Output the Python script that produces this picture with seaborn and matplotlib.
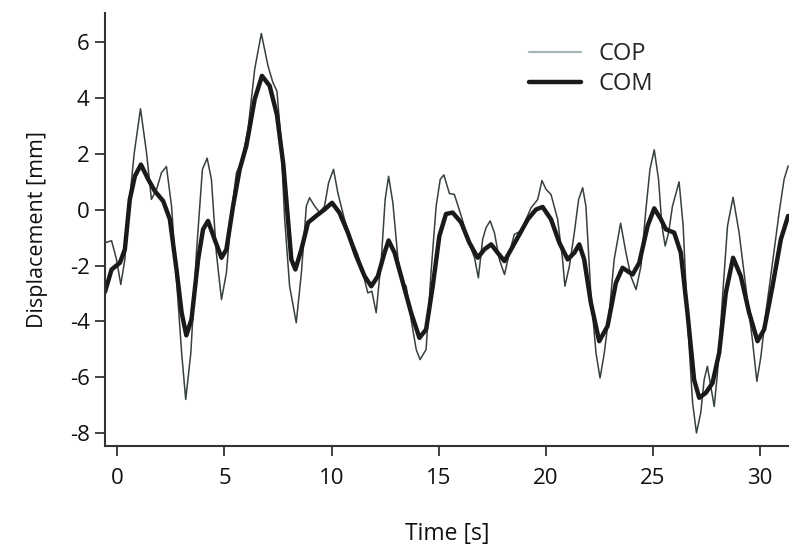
import numpy as np
import pandas as pd
import matplotlib
matplotlib.use("Agg")
import matplotlib.pyplot as plt
import seaborn as sns

# ---- data ----
com_t = [-0.58, -0.27, 0.12, 0.35, 0.58, 0.82, 1.10, 1.44, 1.75, 2.14, 2.45, 2.76, 3.00, 3.22, 3.46,
         3.77, 4.00, 4.23, 4.54, 4.86, 5.09, 5.40, 5.71, 6.02, 6.41, 6.75, 7.11, 7.45, 7.75,
         8.12, 8.31, 8.59, 8.90, 9.28, 9.67, 10.02, 10.37, 10.76, 11.15, 11.54, 11.85, 12.16,
         12.47, 12.66, 12.94, 13.33, 13.71, 14.10, 14.41, 14.72, 15.03, 15.34, 15.65, 16.05,
         16.43, 16.82, 17.13, 17.45, 17.75, 18.07, 18.38, 18.77, 19.16, 19.54, 19.85, 20.24,
         20.63, 21.02, 21.33, 21.56, 21.79, 22.10, 22.49, 22.88, 23.27, 23.58, 24.05, 24.36,
         24.75, 25.06, 25.37, 25.60, 25.99, 26.30, 26.61, 26.92, 27.16, 27.47, 27.78, 28.09,
         28.40, 28.74, 29.10, 29.49, 29.88, 30.19, 30.58, 30.97, 31.31]
com_v = [-2.95, -2.14, -1.90, -1.42, 0.37, 1.21, 1.62, 1.09, 0.67, 0.31, -0.34, -2.14, -3.69, -4.50, -3.93,
         -1.78, -0.70, -0.40, -1.06, -1.72, -1.42, 0.13, 1.45, 2.29, 3.96, 4.80, 4.44, 3.40, 1.60,
         -1.78, -2.14, -1.42, -0.46, -0.22, 0.01, 0.25, -0.11, -0.82, -1.66, -2.38, -2.74, -2.38,
         -1.54, -1.10, -1.54, -2.62, -3.69, -4.59, -4.29, -2.74, -0.94, -0.15, -0.10, -0.46,
         -1.18, -1.72, -1.42, -1.24, -1.54, -1.84, -1.42, -0.88, -0.34, 0.01, 0.10, -0.34,
         -1.18, -1.78, -1.54, -1.24, -1.78, -3.33, -4.71, -4.17, -2.62, -2.08, -2.32, -1.90,
         -0.58, 0.05, -0.34, -0.70, -0.82, -1.54, -3.69, -6.09, -6.74, -6.56, -6.21, -5.13,
         -2.98, -1.72, -2.38, -3.69, -4.71, -4.29, -2.74, -1.06, -0.22]

cop_t = [-0.58, -0.27, -0.04, 0.16, 0.35, 0.54, 0.79, 1.08, 1.36, 1.59, 1.83, 2.06, 2.29, 2.53, 2.76,
         3.00, 3.19, 3.43, 3.69, 3.97, 4.19, 4.39, 4.62, 4.86, 5.09, 5.32, 5.56, 5.79, 6.10, 6.41,
         6.72, 7.03, 7.26, 7.45, 7.62, 7.81, 8.04, 8.35, 8.59, 8.82, 8.97, 9.21, 9.44, 9.67, 9.86,
         10.09, 10.29, 10.60, 10.91, 11.22, 11.38, 11.69, 11.88, 12.08, 12.32, 12.50, 12.66,
         12.86, 13.10, 13.33, 13.48, 13.71, 13.95, 14.13, 14.41, 14.64, 14.88, 15.07, 15.24,
         15.50, 15.73, 16.05, 16.36, 16.67, 16.85, 17.05, 17.21, 17.40, 17.60, 17.83, 18.07,
         18.30, 18.53, 18.84, 19.08, 19.31, 19.62, 19.82, 20.01, 20.24, 20.55, 20.78, 20.89,
         21.10, 21.33, 21.53, 21.72, 21.87, 22.10, 22.34, 22.53, 22.73, 22.96, 23.19, 23.49,
         23.74, 23.97, 24.21, 24.44, 24.67, 24.86, 25.06, 25.26, 25.42, 25.57, 25.73, 25.91,
         26.22, 26.41, 26.61, 26.85, 27.03, 27.23, 27.39, 27.54, 27.70, 27.86, 28.01, 28.25,
         28.48, 28.74, 29.02, 29.33, 29.64, 29.85, 30.04, 30.27, 30.58, 30.89, 31.12, 31.31]
cop_v = [-1.18, -1.11, -1.78, -2.68, -1.78, 0.13, 2.05, 3.62, 2.05, 0.37, 0.73, 1.33, 1.55, 0.13, -2.50,
         -5.13, -6.80, -5.13, -1.54, 1.45, 1.85, 1.09, -1.54, -3.22, -2.26, -0.10, 1.33, 1.69, 2.89, 5.04,
         6.32, 5.16, 4.56, 4.25, 2.65, -0.34, -2.74, -4.05, -2.26, 0.13, 0.43, 0.13, -0.10, 0.13, 0.97,
         1.45, 0.61, -0.34, -1.06, -1.60, -2.02, -2.98, -2.92, -3.69, -1.78, 0.37, 1.20,
         0.25, -1.78, -2.62, -2.74, -3.93, -5.01, -5.37, -5.01, -2.26, 0.13, 1.09, 1.25,
         0.58, 0.55, -0.22, -1.06, -1.72, -2.44, -1.06, -0.64, -0.40, -0.82, -1.78, -2.32,
         -1.54, -0.88, -0.76, -0.34, 0.07, 0.37, 1.05, 0.73, 0.55, -0.34, -1.78, -2.74,
         -2.02, -0.82, 0.37, 0.79, 0.13, -2.98, -5.13, -6.03, -5.13, -3.69, -1.78, -0.48,
         -1.54, -2.38, -2.86, -2.02, 0.01, 1.45, 2.15, 1.09, -0.58, -1.30, -0.82, 0.13,
         1.00, -0.58, -3.93, -6.92, -8.00, -7.28, -6.09, -5.61, -6.33, -7.05, -5.85, -3.10,
         -0.58, 0.45, -0.82, -2.74, -4.65, -6.15, -5.25, -3.69, -1.90, -0.10, 1.09, 1.57]

y_ticks = [-8, -6, -4, -2, 0, 2, 4, 6]
x_ticks = [0, 5, 10, 15, 20, 25, 30]

cop_df = pd.DataFrame({"Time": cop_t, "Displacement": cop_v})
com_df = pd.DataFrame({"Time": com_t, "Displacement": com_v})

sns.set_theme(style="ticks")
plt.rcParams["font.family"] = ["Open Sans", "DejaVu Sans"]
plt.rcParams["axes.unicode_minus"] = False

fig = plt.figure(figsize=(7.89, 5.45), dpi=100)
ax = fig.add_axes([0.133, 0.182, 0.867, 0.794])

sns.lineplot(data=cop_df, x="Time", y="Displacement", ax=ax, color="#36403f",
             linewidth=1.1, estimator=None, sort=False, label="COP",
             solid_joinstyle="round", solid_capstyle="round")
sns.lineplot(data=com_df, x="Time", y="Displacement", ax=ax, color="#1a1a1a",
             linewidth=3.2, estimator=None, sort=False, label="COM",
             solid_joinstyle="round", solid_capstyle="round")

ax.set_xlim(-0.58, 31.35)
ax.set_ylim(-8.46, 7.05)
ax.set_xticks(x_ticks)
ax.set_yticks(y_ticks)
ax.tick_params(axis="both", direction="out", length=7, width=1.3, color="#333333",
               labelsize=16, labelcolor="#111111")
ax.tick_params(axis="x", pad=9)
ax.tick_params(axis="y", pad=4)
for s in ["top", "right"]:
    ax.spines[s].set_visible(False)
for s in ["left", "bottom"]:
    ax.spines[s].set_color("#333333")
    ax.spines[s].set_linewidth(1.5)

ax.set_xlabel("Time [s]", fontsize=16.5, color="#111111", labelpad=24)
ax.set_ylabel("Displacement [mm]", fontsize=15.5, color="#111111", labelpad=16)

leg = ax.legend(loc="upper left", bbox_to_anchor=(529 / 789, 1 - 42 / 545),
                bbox_transform=fig.transFigure, borderpad=0, borderaxespad=0,
                frameon=False, fontsize=17, handlelength=2.2, handletextpad=0.75,
                labelspacing=0.25)
leg.get_lines()[0].set_color("#a6b4b8")
leg.get_lines()[0].set_linewidth(1.6)
leg.get_lines()[1].set_linewidth(3.2)

fig.savefig("out.png", dpi=100)
